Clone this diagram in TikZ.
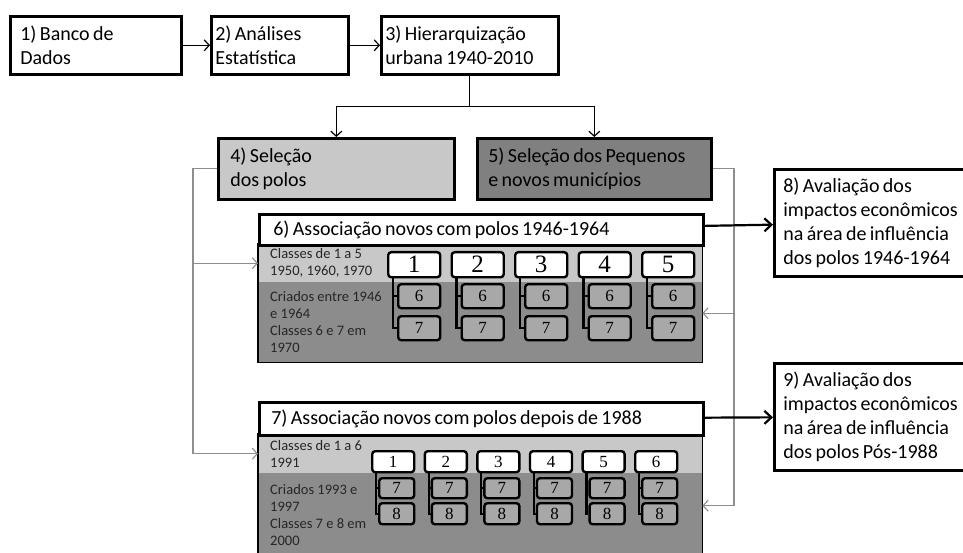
\documentclass[tikz,border=0pt]{standalone}
\usepackage{fontspec}
\setmainfont{Carlito}
\newfontfamily\numfont{Liberation Serif}
\usepackage{tikz}
\usetikzlibrary{arrows.meta,positioning,calc}
\definecolor{fluxlight}{HTML}{C8C8C8}
\definecolor{fluxdark}{HTML}{808080}
\definecolor{fluxband}{HTML}{8C8C8C}
\definecolor{fluxsub}{HTML}{A8A8A8}
\definecolor{fluxline}{HTML}{8E8E8E}
\newcommand\fluxfont{\fontsize{20}{24}\selectfont\spaceskip=3.4pt plus 1pt minus 1pt\relax}
\tikzset{
  stepbox/.style={draw=black, line width=2.6pt, fill=white, anchor=north west, align=flush left, inner ysep=0pt, font=\fluxfont},
  band/.style={anchor=north west, inner sep=0pt, minimum width=444pt},
  bandtext/.style={anchor=west, align=flush left, inner sep=0pt, text=black!85, font=\fontsize{14.5}{17}\selectfont},
  numbox/.style={draw=black, line width=2.4pt, rounded corners=3pt, fill=white, anchor=north west, inner sep=0pt},
  subbox/.style={numbox, fill=fluxsub},
  bracket/.style={line width=2.2pt},
  arrow/.style={-{Straight Barb[length=5pt,width=11pt]}, line width=1.2pt},
  grayarrow/.style={-{Straight Barb[length=5pt,width=11pt]}, line width=1.1pt, draw=fluxline},
  boldarrow/.style={-{Straight Barb[length=7pt,width=13pt]}, line width=2.2pt}
}
\begin{document}
\begin{tikzpicture}[x=1pt, y=-1pt]
  \useasboundingbox (0,0) rectangle (963,553);

  % upper chain
  \node[stepbox, inner xsep=10pt, text width=151pt, minimum height=58pt] (A) at (9,15) {1) Banco de\\Dados};
  \node[stepbox, inner xsep=4pt, text width=129pt, minimum height=58pt] (B) at (210,15) {2) Análises\\Estatística};
  \node[stepbox, inner xsep=4pt, text width=169pt, minimum height=58pt] (C) at (380,15) {3) Hierarquização\\urbana 1940-2010};
  \node[stepbox, fill=fluxlight, inner xsep=12pt, text width=212pt, minimum height=61pt] (D) at (217,137) {4) Seleção\\dos polos};
  \node[stepbox, fill=fluxdark, inner xsep=11pt, text width=212pt, minimum height=61pt] (E) at (476,137) {5) Seleção dos Pequenos\\e novos municípios};

  % group 1946-1964
  \node[band, fill=fluxlight, minimum height=38pt] (F1) at (258,244) {};
  \node[band, fill=fluxband, minimum height=80pt] (F2) at (258,282) {};
  \draw[line width=1.4pt] (F1.north west) rectangle (F2.south east);
  \node[stepbox, inner xsep=14pt, text width=416pt, minimum height=31pt] (F) at (258,213) {6) Associação novos com polos 1946-1964};
  \node[bandtext] (F1t) at ([xshift=12pt]F1.west) {Classes de 1 a 5\\1950, 1960, 1970};
  \node[bandtext] (F2t) at ([xshift=12pt]F2.west) {Criados entre 1946\\e 1964\\Classes 6 e 7 em\\1970};
  \foreach \n [count=\i from 0] in {1,...,5} {
    \node[numbox, minimum width=52pt, minimum height=25pt, font=\numfont\fontsize{25}{25}\selectfont] (pa\n) at (387+63.5*\i,251) {\n};
    \node[subbox, minimum width=42pt, minimum height=24pt, font=\numfont\fontsize{17}{17}\selectfont] (ma\n) at (397+63.5*\i,283) {6};
    \node[subbox, minimum width=42pt, minimum height=24pt, font=\numfont\fontsize{17}{17}\selectfont] (la\n) at (397+63.5*\i,315) {7};
    \draw[bracket] ([xshift=6pt]pa\n.south west) |- (la\n.west);
    \draw[bracket] ([xshift=6pt]pa\n.south west |- ma\n.west) -- (ma\n.west);
  }

  % group after 1988
  \node[band, fill=fluxlight, minimum height=39pt] (H1) at (258,434) {};
  \node[band, fill=fluxband, minimum height=83pt] (H2) at (258,473) {};
  \draw[line width=1.4pt] (H1.north west) rectangle (H2.south east);
  \node[stepbox, inner xsep=12pt, text width=420pt, minimum height=33pt] (H) at (258,401) {7) Associação novos com polos depois de 1988};
  \node[bandtext] (H1t) at ([xshift=12pt]H1.west) {Classes de 1 a 6\\1991};
  \node[bandtext] (H2t) at ([xshift=12pt]H2.west) {Criados 1993 e\\1997\\Classes 7 e 8 em\\2000};
  \foreach \n [count=\i from 0] in {1,...,6} {
    \node[numbox, minimum width=42pt, minimum height=21pt, font=\numfont\fontsize{17}{17}\selectfont] (pb\n) at (371+52.6*\i,450) {\n};
    \node[subbox, minimum width=35pt, minimum height=20pt, font=\numfont\fontsize{17}{17}\selectfont] (mb\n) at (378+52.6*\i,477) {7};
    \node[subbox, minimum width=35pt, minimum height=21pt, font=\numfont\fontsize{17}{17}\selectfont] (lb\n) at (378+52.6*\i,502) {8};
    \draw[bracket] ([xshift=5pt]pb\n.south west) |- (lb\n.west);
    \draw[bracket] ([xshift=5pt]pb\n.south west |- mb\n.west) -- (mb\n.west);
  }

  % evaluations
  \node[stepbox, inner xsep=9pt, text width=192pt, minimum height=107pt] (G) at (773,168) {8) Avaliação dos\\impactos econômicos\\na área de influência\\dos polos 1946-1964};
  \node[stepbox, inner xsep=9pt, text width=192pt, minimum height=107pt] (I) at (773,362) {9) Avaliação dos\\impactos econômicos\\na área de influência\\dos polos Pós-1988};

  \coordinate (leftrail) at (193,0);
  \coordinate (rightrail) at (734,0);
  \coordinate (F2in) at ([yshift=9pt]F2.east);
  \coordinate (H2in) at ([yshift=9pt]H2.east);

  \draw[arrow] (A) -- (B);
  \draw[arrow] (B) -- (C);
  \draw[arrow] (C.south) -- ++(0,31) -| (D.north);
  \draw[arrow] (C.south) -- ++(0,31) -| (E.north);
  \draw[grayarrow] (D.west) -| (leftrail |- F1.west) -- (F1.west);
  \draw[grayarrow] (D.west) -| (leftrail |- H1.west) -- (H1.west);
  \draw[grayarrow] (E.east) -| (rightrail |- F2in) -- (F2in);
  \draw[grayarrow] (E.east) -| (rightrail |- H2in) -- (H2in);
  \draw[boldarrow] (F) -- (G);
  \draw[boldarrow] (H) -- (I);
\end{tikzpicture}
\end{document}
